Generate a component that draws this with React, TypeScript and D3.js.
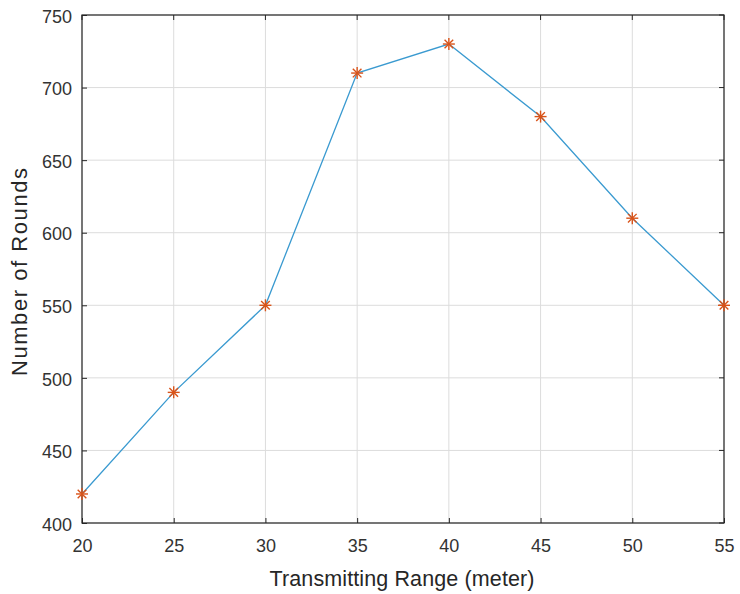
import * as d3 from "d3";
import { useEffect, useRef } from "react";

const ranges = [20, 25, 30, 35, 40, 45, 50, 55];
const rounds = [420, 490, 550, 710, 730, 680, 610, 550];
const xTicks = [20, 25, 30, 35, 40, 45, 50, 55];
const yTicks = [400, 450, 500, 550, 600, 650, 700, 750];

const W = 740;
const H = 594;
const margin = { left: 82, top: 15, right: 16, bottom: 71 };

const draw = (svgEl: SVGSVGElement) => {
  const svg = d3.select(svgEl);
  svg.selectAll("*").remove();

  const x1 = margin.left, x2 = W - margin.right;
  const y1 = margin.top, y2 = H - margin.bottom;

  const xScale = d3.scaleLinear().domain([20, 55]).range([x1, x2]);
  const yScale = d3.scaleLinear().domain([400, 750]).range([y2, y1]);

  svg.append("rect").attr("width", W).attr("height", H).attr("fill", "#fff");

  // grid
  const grid = svg.append("g").attr("stroke", "#dcdcdc").attr("stroke-width", 1);
  xTicks.forEach((t) => {
    grid.append("line")
      .attr("x1", xScale(t)).attr("x2", xScale(t))
      .attr("y1", y1).attr("y2", y2);
  });
  yTicks.forEach((t) => {
    grid.append("line")
      .attr("x1", x1).attr("x2", x2)
      .attr("y1", yScale(t)).attr("y2", yScale(t));
  });

  const font = "Arial, 'Liberation Sans', sans-serif";

  // axes (ticks inside, like matlab)
  const xAxis = d3.axisBottom(xScale).tickValues(xTicks).tickSizeInner(-5).tickSizeOuter(0).tickPadding(16);
  const yAxis = d3.axisLeft(yScale).tickValues(yTicks).tickSizeInner(-5).tickSizeOuter(0).tickPadding(10);

  const gx = svg.append("g").attr("transform", `translate(0,${y2})`).call(xAxis);
  const gy = svg.append("g").attr("transform", `translate(${x1},0)`).call(yAxis);
  [gx, gy].forEach((g) => {
    g.select(".domain").remove();
    g.selectAll(".tick line").attr("stroke", "#262626");
    g.selectAll(".tick text").attr("fill", "#333").style("font-size", "18px").style("font-family", font);
  });
  gy.selectAll(".tick text").attr("dy", "0.4em");

  // top/right ticks
  const topTicks = svg.append("g").attr("stroke", "#262626");
  xTicks.forEach((t) => {
    topTicks.append("line").attr("x1", xScale(t)).attr("x2", xScale(t)).attr("y1", y1).attr("y2", y1 + 5);
  });
  yTicks.forEach((t) => {
    topTicks.append("line").attr("x1", x2).attr("x2", x2 - 5).attr("y1", yScale(t)).attr("y2", yScale(t));
  });

  svg.append("rect")
    .attr("x", x1).attr("y", y1)
    .attr("width", x2 - x1).attr("height", y2 - y1)
    .attr("fill", "none").attr("stroke", "#262626").attr("stroke-width", 1.2);

  // line
  const pts = ranges.map((r, i) => [r, rounds[i]] as [number, number]);
  const line = d3.line<[number, number]>()
    .x((d) => xScale(d[0]))
    .y((d) => yScale(d[1]));
  svg.append("path")
    .attr("d", line(pts))
    .attr("fill", "none")
    .attr("stroke", "#3a9ad0")
    .attr("stroke-width", 1.3);

  // asterisk markers
  const r = 6;
  const star = svg.append("g").attr("stroke", "#d95319").attr("stroke-width", 1.4);
  pts.forEach((d) => {
    const cx = xScale(d[0]), cy = yScale(d[1]);
    const g = star.append("g").attr("transform", `translate(${cx},${cy})`);
    g.append("line").attr("x1", -r).attr("x2", r).attr("y1", 0).attr("y2", 0);
    g.append("line").attr("x1", 0).attr("x2", 0).attr("y1", -r).attr("y2", r);
    g.append("line").attr("x1", -r * 0.72).attr("x2", r * 0.72).attr("y1", -r * 0.72).attr("y2", r * 0.72);
    g.append("line").attr("x1", -r * 0.72).attr("x2", r * 0.72).attr("y1", r * 0.72).attr("y2", -r * 0.72);
  });

  // labels
  svg.append("text")
    .attr("x", 402).attr("y", 586)
    .attr("text-anchor", "middle")
    .attr("fill", "#262626")
    .attr("textLength", 265)
    .style("font-size", "21.5px").style("font-family", font)
    .text("Transmitting Range (meter)");

  svg.append("text")
    .attr("transform", `translate(27,272) rotate(-90)`)
    .attr("text-anchor", "middle")
    .attr("fill", "#262626")
    .attr("textLength", 208)
    .style("font-size", "22px").style("font-family", font)
    .text("Number of Rounds");
};

export default function App() {
  const ref = useRef<SVGSVGElement>(null);
  useEffect(() => {
    if (ref.current) draw(ref.current);
  }, []);
  return (
    <div style={{ position: "absolute", left: 0, top: 0 }}>
      <svg ref={ref} width={W} height={H} style={{ display: "block" }} />
    </div>
  );
}
